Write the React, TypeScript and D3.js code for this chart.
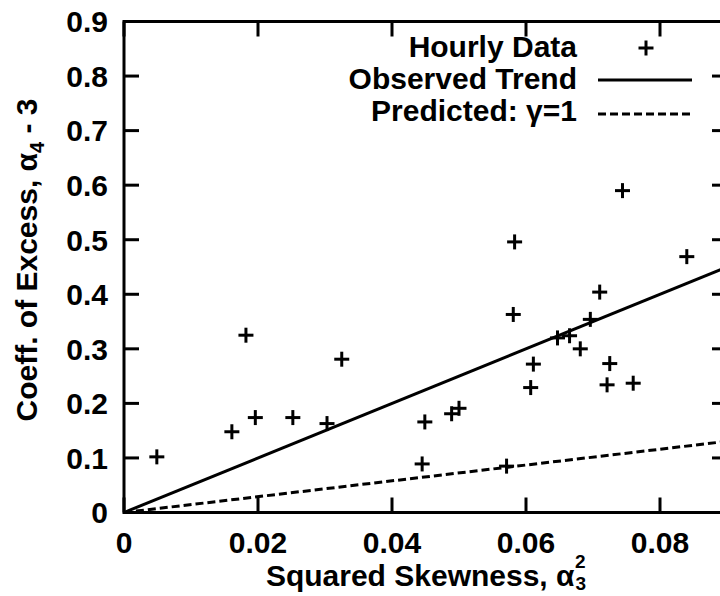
import React from 'react';
import * as d3 from 'd3';

// Hourly data points (squared skewness, coefficient of excess)
const hourlyX = [0.0049, 0.0161, 0.0196, 0.0252, 0.0303, 0.0182, 0.0325, 0.0449, 0.0489, 0.0500, 0.0445, 0.0571, 0.0744, 0.0583, 0.0840, 0.0710, 0.0581, 0.0696, 0.0647, 0.0665, 0.0681, 0.0611, 0.0725, 0.0607, 0.0721, 0.0760];
const hourlyY = [0.102, 0.148, 0.174, 0.174, 0.163, 0.325, 0.281, 0.166, 0.181, 0.191, 0.089, 0.085, 0.590, 0.496, 0.469, 0.404, 0.363, 0.354, 0.320, 0.324, 0.300, 0.272, 0.273, 0.229, 0.234, 0.237];

const observedSlope = 5.0;
const predictedSlope = 1.45;

const xTicks = [0, 0.02, 0.04, 0.06, 0.08];
const xTickLabels = ['0', '0.02', '0.04', '0.06', '0.08'];
const yTicks = [0, 0.1, 0.2, 0.3, 0.4, 0.5, 0.6, 0.7, 0.8, 0.9];
const yTickLabels = ['0', '0.1', '0.2', '0.3', '0.4', '0.5', '0.6', '0.7', '0.8', '0.9'];
const legendLabels = ['Hourly Data', 'Observed Trend', 'Predicted: \u03b3=1'];

const FONT = '"Liberation Sans", Arial, Helvetica, sans-serif';

export default function App() {
  const x = d3.scaleLinear().domain([0, 0.09]).range([124, 727]);
  const y = d3.scaleLinear().domain([0, 0.9]).range([512.5, 21.5]);
  const [x0, x1] = x.range();
  const [y0, y1] = y.range();
  const line = d3.line<[number, number]>().x(d => x(d[0])).y(d => y(d[1]));
  const xEnd = 0.09;
  const obs: [number, number][] = [[0, 0], [xEnd, observedSlope * xEnd]];
  const pred: [number, number][] = [[0, 0], [xEnd, predictedSlope * xEnd]];
  const tickLen = 15;
  const sw = 3;
  const plus = (cx: number, cy: number, k: string | number) => (
    <g key={k} stroke="#000" strokeWidth={3}>
      <line x1={cx - 7.5} x2={cx + 7.5} y1={cy} y2={cy} />
      <line x1={cx} x2={cx} y1={cy - 7.5} y2={cy + 7.5} />
    </g>
  );
  const fs = 30;
  return (
    <svg width={720} height={596} style={{ position: 'absolute', left: 0, top: 0, background: '#fff' }} fontFamily={FONT} fontWeight="bold">
      <rect x={0} y={0} width={720} height={596} fill="#fff" />
      <defs>
        <clipPath id="plot">
          <rect x={x0} y={y1} width={x1 - x0} height={y0 - y1} />
        </clipPath>
      </defs>
      {/* lines */}
      <g clipPath="url(#plot)" fill="none" stroke="#000" strokeWidth={sw}>
        <path d={line(obs) || ''} />
        <path d={line(pred) || ''} strokeDasharray="8,4" />
      </g>
      {/* points */}
      {hourlyX.map((v, i) => plus(x(v), y(hourlyY[i]), i))}
      {/* frame */}
      <rect x={x0} y={y1} width={x1 - x0} height={y0 - y1} fill="none" stroke="#000" strokeWidth={sw} />
      {/* ticks */}
      <g stroke="#000" strokeWidth={sw}>
        {xTicks.map((t, i) => (
          <g key={'xt' + i}>
            <line x1={x(t)} x2={x(t)} y1={y0} y2={y0 - tickLen} />
            <line x1={x(t)} x2={x(t)} y1={y1} y2={y1 + tickLen} />
          </g>
        ))}
        {yTicks.map((t, i) => (
          <g key={'yt' + i}>
            <line x1={x0} x2={x0 + tickLen} y1={y(t)} y2={y(t)} />
            <line x1={x1} x2={x1 - tickLen} y1={y(t)} y2={y(t)} />
          </g>
        ))}
      </g>
      {/* tick labels */}
      <g fontSize={fs} fill="#000">
        {xTicks.map((t, i) => (
          <text key={'xl' + i} x={x(t)} y={553} textAnchor="middle">{xTickLabels[i]}</text>
        ))}
        {yTicks.map((t, i) => (
          <text key={'yl' + i} x={108} y={y(t)} dy="0.36em" textAnchor="end">{yTickLabels[i]}</text>
        ))}
      </g>
      {/* axis titles */}
      <text x={426} y={586} fontSize={fs} textAnchor="middle">
        Squared Skewness, {'\u03b1'}
        <tspan dx={1} dy={4} fontSize={19}>3</tspan>
        <tspan dx={-11} dy={-22} fontSize={19}>2</tspan>
      </text>
      <text transform="translate(37,260) rotate(-90)" fontSize={fs} textAnchor="middle">
        Coeff. of Excess, {'\u03b1'}
        <tspan dy={7} fontSize={20}>4</tspan>
        <tspan dy={-7}> - 3</tspan>
      </text>
      {/* legend */}
      <g fontSize={fs} fill="#000">
        {legendLabels.map((l, i) => (
          <text key={'lg' + i} x={577} y={57 + i * 32} textAnchor="end">{l}</text>
        ))}
      </g>
      {plus(646, 48, 'lgp')}
      <g stroke="#000" strokeWidth={sw}>
        <line x1={598} x2={692} y1={80} y2={80} />
        <line x1={598} x2={692} y1={114} y2={114} strokeDasharray="8,4" />
      </g>
    </svg>
  );
}
